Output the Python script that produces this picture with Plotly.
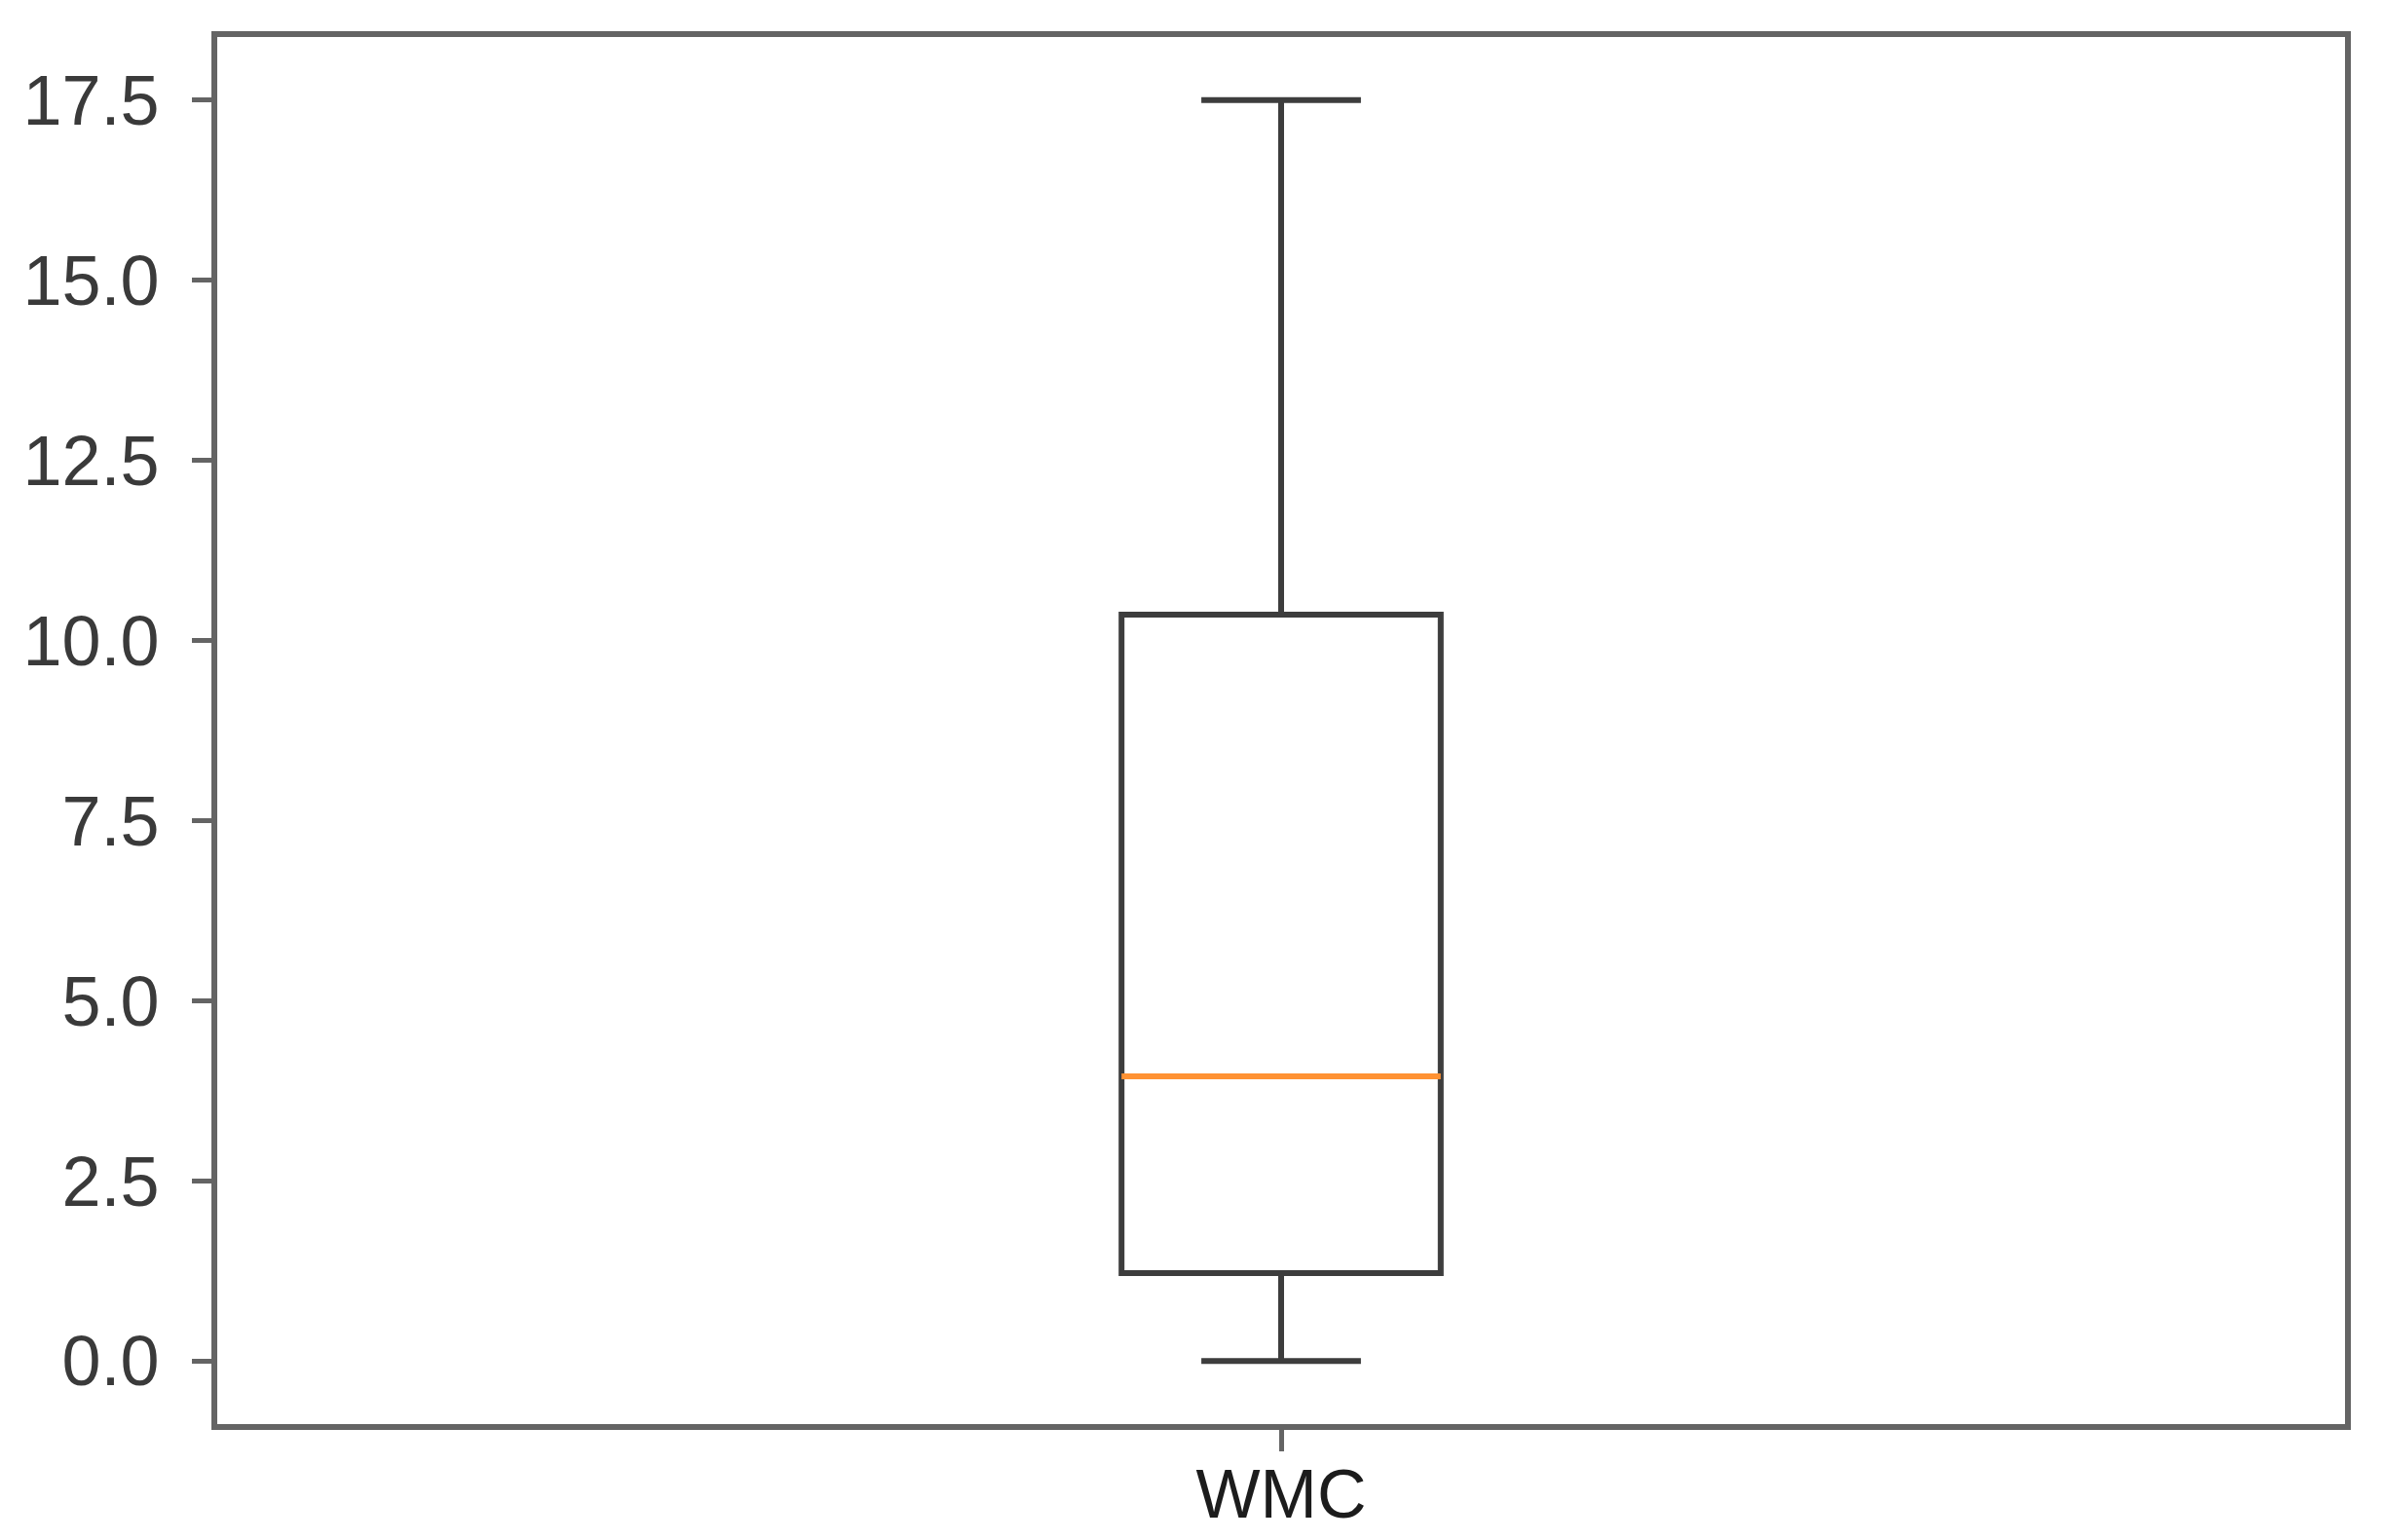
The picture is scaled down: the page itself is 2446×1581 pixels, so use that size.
import plotly.graph_objects as go

# Data (box statistics)
categories = ["WMC"]
positions = [1]
q1 = [1.22]
median = [3.95]
q3 = [10.36]
lower_whisker = [0.0]
upper_whisker = [17.5]
y_tick_values = [0.0, 2.5, 5.0, 7.5, 10.0, 12.5, 15.0, 17.5]

BOX_WIDTH = 0.15
BOX_COLOR = "#3d3d3d"
FRAME_COLOR = "#646464"
MEDIAN_COLOR = "#ff9233"
FONT = "Liberation Sans, Arial, sans-serif"

fig = go.Figure()
fig.add_trace(go.Box(
    x=positions,
    q1=q1,
    median=median,
    q3=q3,
    lowerfence=lower_whisker,
    upperfence=upper_whisker,
    width=BOX_WIDTH,
    whiskerwidth=0.5,
    fillcolor="rgba(0,0,0,0)",
    line=dict(color=BOX_COLOR, width=6),
    boxpoints=False,
    hoverinfo="skip",
    showlegend=False,
))

for p, m in zip(positions, median):
    fig.add_shape(
        type="line", xref="x", yref="y", layer="above",
        x0=p - BOX_WIDTH / 2, x1=p + BOX_WIDTH / 2, y0=m, y1=m,
        line=dict(color=MEDIAN_COLOR, width=6),
    )

ymin = min(lower_whisker)
ymax = max(upper_whisker)
pad = 0.05 * (ymax - ymin)

fig.update_layout(
    template="none",
    width=2446, height=1581,
    margin=dict(l=223, r=39, t=38, b=119, autoexpand=False),
    paper_bgcolor="white",
    plot_bgcolor="white",
    font=dict(family=FONT, color="#383838", size=72),
    xaxis=dict(
        automargin=False,
        range=[0.5, 1.5],
        tickmode="array", tickvals=positions, ticktext=categories,
        showgrid=False, zeroline=False,
        showline=True, mirror=True, linecolor=FRAME_COLOR, linewidth=6,
        ticks="outside", ticklen=22, tickwidth=5, tickcolor=FRAME_COLOR,
        tickfont=dict(family=FONT, size=70, color="#1c1c1c"),
        ticklabelstandoff=-16,
    ),
    yaxis=dict(
        automargin=False,
        range=[ymin - pad, ymax + pad],
        tickmode="array", tickvals=y_tick_values,
        ticktext=[f"{v:.1f}" for v in y_tick_values],
        showgrid=False, zeroline=False,
        showline=True, mirror=True, linecolor=FRAME_COLOR, linewidth=6,
        ticks="outside", ticklen=20, tickwidth=5, tickcolor=FRAME_COLOR,
        tickfont=dict(family=FONT, size=72, color="#3a3a3a"),
        ticklabelstandoff=19,
    ),
)

fig.write_html(
    "out.html",
    config={"displayModeBar": False},
    post_script="document.body.style.margin='0';document.body.style.overflow='hidden';",
)
